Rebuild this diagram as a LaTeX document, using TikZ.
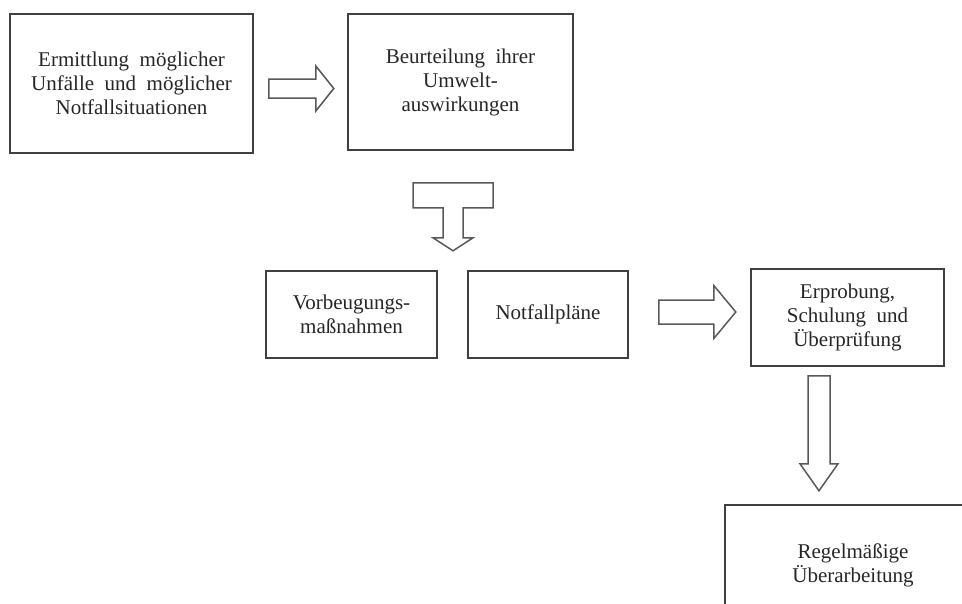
\documentclass[tikz,border=0pt]{standalone}
\usepackage{fontspec}
\setmainfont{Liberation Serif}
\usetikzlibrary{calc}

\tikzset{
    box/.style={draw=black!75, line width=1.6pt, align=center, text=black!85,
        font=\fontsize{21}{24}\selectfont, inner sep=0pt},
    blockarrow/.style={draw=black!65, line width=1.5pt, line join=miter, fill=white}
}

% hollow arrow to the right: start, body length, head length, body half width, head half width
\newcommand{\rightblock}[5]{
    \draw[blockarrow] #1 ++(0,-#4) -- ++(#2,0) -- ++(0,#4-#5) -- ++(#3,#5)
        -- ++(-#3,#5) -- ++(0,#4-#5) -- ++(-#2,0) -- cycle;
}

\begin{document}
\begin{tikzpicture}[x=1pt,y=-1pt]
    \useasboundingbox (0,0) rectangle (962,603);

    % Draw the boxes
    \node[box, minimum width=243, minimum height=139] (ermittlung) at (131.5,83.5)
        {Ermittlung \ möglicher\\Unfälle \ und \ möglicher\\Notfallsituationen};
    \node[box, minimum width=225, minimum height=136] (beurteilung) at (460.5,82)
        {Beurteilung \ ihrer\\Umwelt-\\auswirkungen};
    \node[box, minimum width=171, minimum height=87] (vorbeugung) at (351.5,314.5)
        {Vorbeugungs-\\maßnahmen};
    \node[box, minimum width=160, minimum height=87] (notfall) at (548,314.5)
        {Notfallpläne};
    \node[box, minimum width=193, minimum height=97] (erprobung) at (847.5,317.5)
        {Erprobung,\\Schulung \ und\\Überprüfung};
    \node[box, minimum width=256, minimum height=120] (regel) at (853,565)
        {Regelmäßige\\Überarbeitung};

    % Draw the block arrows between the boxes
    \coordinate (r1) at ($(ermittlung.east)+(15,5)$);
    \rightblock{(r1)}{47}{18}{9.5}{22.5}
    \coordinate (r2) at ($(notfall.east)+(30,-2.5)$);
    \rightblock{(r2)}{55}{22}{12}{26.5}

    % T shaped arrow under the second box
    \coordinate (t) at ($(beurteilung.south)+(-47.5,32)$);
    \draw[blockarrow] (t) -- ++(80,0) -- ++(0,25) -- ++(-30,0) -- ++(0,30)
        -- ++(10,0) -- ++(-20,13) -- ++(-20,-13) -- ++(10,0) -- ++(0,-30)
        -- ++(-30,0) -- cycle;

    % Down arrow to the last box
    \coordinate (d) at ($(erprobung.south)+(-28.5,9)$);
    \draw[blockarrow] (d) ++(-11,0) -- ++(22,0) -- ++(0,88) -- ++(8,0)
        -- ++(-19,27) -- ++(-19,-27) -- ++(8,0) -- cycle;
\end{tikzpicture}
\end{document}
